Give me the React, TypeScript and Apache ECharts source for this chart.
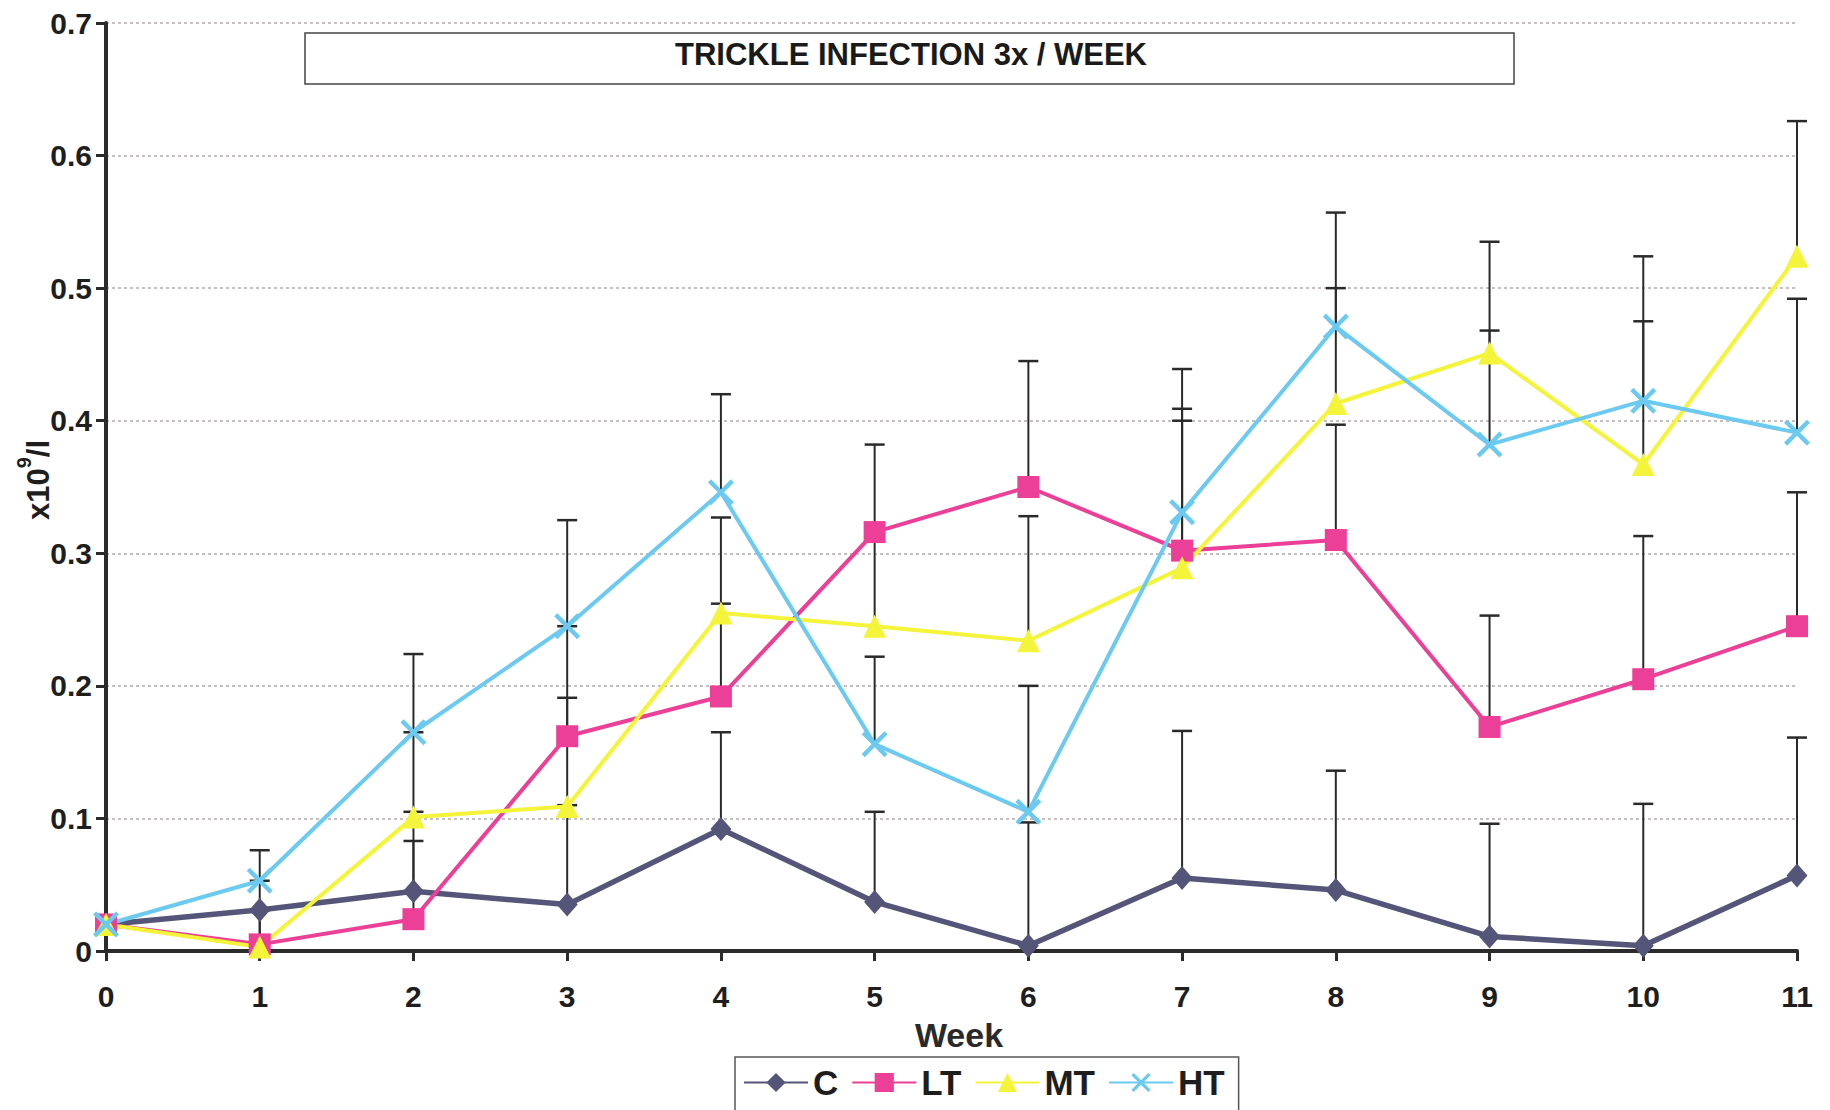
import React, { useEffect, useRef } from "react";
import * as echarts from "echarts";

const weeks = [0, 1, 2, 3, 4, 5, 6, 7, 8, 9, 10, 11];
const yTicks = [0, 0.1, 0.2, 0.3, 0.4, 0.5, 0.6, 0.7];

const cValues = [0.02, 0.031, 0.045, 0.035, 0.092, 0.037, 0.004, 0.055, 0.046, 0.011, 0.004, 0.057];
const ltValues = [0.02, 0.005, 0.024, 0.162, 0.192, 0.316, 0.35, 0.302, 0.31, 0.169, 0.205, 0.245];
const mtValues = [0.02, 0.003, 0.101, 0.109, 0.255, 0.245, 0.234, 0.289, 0.413, 0.451, 0.367, 0.524];
const htValues = [0.02, 0.053, 0.165, 0.245, 0.346, 0.156, 0.105, 0.331, 0.471, 0.382, 0.415, 0.391];

const cUpper = [null, 0.053, 0.083, 0.11, 0.165, 0.105, 0.097, 0.166, 0.136, 0.096, 0.111, 0.161];
const ltUpper = [null, 0.031, 0.105, 0.245, 0.262, 0.382, 0.445, 0.409, 0.397, 0.253, 0.313, 0.346];
const mtUpper = [null, 0.031, 0.165, 0.191, 0.327, 0.318, 0.328, 0.4, 0.5, 0.535, 0.475, 0.626];
const htUpper = [null, 0.076, 0.224, 0.325, 0.42, 0.222, 0.2, 0.439, 0.557, 0.468, 0.524, 0.492];

const seriesNames = ["C", "LT", "MT", "HT"];
const titleText = "TRICKLE INFECTION 3x / WEEK";

const X_PATH =
  "path://M0,1.2 L1.2,0 L5,3.8 L8.8,0 L10,1.2 L6.2,5 L10,8.8 L8.8,10 L5,6.2 L1.2,10 L0,8.8 L3.8,5 Z";

function pairs(vals: number[]) {
  return weeks.map((w, i) => [w, vals[i]]);
}

function errData(vals: number[], upper: (number | null)[]) {
  const out: number[][] = [];
  weeks.forEach((w, i) => {
    const u = upper[i];
    if (u !== null && u !== undefined) out.push([w, vals[i], u]);
  });
  return out;
}

function errSeries(name: string, vals: number[], upper: (number | null)[]) {
  return {
    name,
    type: "custom",
    z: 1,
    silent: true,
    clip: false,
    encode: { x: 0, y: [1, 2] },
    data: errData(vals, upper),
    renderItem: (params: any, api: any) => {
      const x = api.value(0);
      const lo = api.value(1);
      const hi = api.value(2);
      const p0 = api.coord([x, lo]);
      const p1 = api.coord([x, hi]);
      return {
        type: "group",
        children: [
          {
            type: "line",
            shape: { x1: p0[0], y1: p0[1], x2: p1[0], y2: p1[1] },
            style: { stroke: "#2a2a2a", lineWidth: 2 },
          },
          {
            type: "line",
            shape: { x1: p1[0] - 10, y1: p1[1], x2: p1[0] + 10, y2: p1[1] },
            style: { stroke: "#2a2a2a", lineWidth: 2.5 },
          },
        ],
      };
    },
  };
}

export default function App() {
  const ref = useRef<HTMLDivElement>(null);

  useEffect(() => {
    document.body.style.margin = "0";
    if (!ref.current) return;
    const chart = echarts.init(ref.current, undefined, { renderer: "svg" });

    const lineBase = (name: string, vals: number[], color: string, symbol: string, size: any, width: number) => ({
      name,
      type: "line",
      z: 3,
      data: pairs(vals),
      symbol,
      symbolSize: size,
      showAllSymbol: true,
      lineStyle: { color, width },
      itemStyle: { color, borderWidth: 0 },
      emphasis: { disabled: true },
    });

    chart.setOption({
      animation: false,
      backgroundColor: "#ffffff",
      grid: { left: 106, right: 33, top: 23, bottom: 159, containLabel: false },
      xAxis: {
        type: "value",
        min: 0,
        max: 11,
        interval: 1,
        axisLine: { show: true, onZero: false, lineStyle: { color: "#2b2b2b", width: 4 } },
        axisTick: { show: true, length: 10, inside: false, lineStyle: { color: "#2b2b2b", width: 3 } },
        splitLine: { show: false },
        axisLabel: {
          margin: 30,
          fontSize: 30,
          fontWeight: "bold",
          fontFamily: "Liberation Sans, Arial, sans-serif",
          color: "#1e1e1e",
        },
      },
      yAxis: {
        type: "value",
        min: 0,
        max: 0.7,
        interval: 0.1,
        axisLine: { show: true, lineStyle: { color: "#2b2b2b", width: 4 } },
        axisTick: { show: true, length: 10, lineStyle: { color: "#2b2b2b", width: 3 } },
        splitLine: { show: true, lineStyle: { color: "#b3abab", width: 1.5, type: [3, 3] } },
        axisLabel: {
          margin: 14,
          fontSize: 30,
          fontWeight: "bold",
          fontFamily: "Liberation Sans, Arial, sans-serif",
          color: "#1e1e1e",
          formatter: (v: number) => {
            const t = yTicks.find((k) => Math.abs(k - v) < 1e-6);
            const val = t === undefined ? v : t;
            return val === 0 ? "0" : val.toFixed(1);
          },
        },
      },
      legend: {
        data: seriesNames,
        left: 735,
        top: 1057,
        orient: "horizontal",
        itemWidth: 64,
        itemHeight: 24,
        itemGap: 13,
        padding: [8, 14, 16, 8],
        borderColor: "#555",
        borderWidth: 1.5,
        backgroundColor: "#fff",
        selectedMode: false,
        textStyle: {
          fontSize: 35,
          fontWeight: "bold",
          fontFamily: "Liberation Sans, Arial, sans-serif",
          color: "#1e1e1e",
        },
      },
      graphic: [
        {
          type: "rect",
          shape: { x: 305, y: 33, width: 1209, height: 51 },
          style: { fill: "#ffffff", stroke: "#444", lineWidth: 1.5 },
          z: 10,
        },
        {
          type: "text",
          x: 911,
          y: 54,
          z: 11,
          style: {
            text: titleText,
            align: "center",
            verticalAlign: "middle",
            fontSize: 31,
            fontWeight: "bold",
            fontFamily: "Liberation Sans, Arial, sans-serif",
            fill: "#1a1a1a",
          },
        },
        {
          type: "text",
          x: 959,
          y: 1035,
          z: 11,
          style: {
            text: "Week",
            align: "center",
            verticalAlign: "middle",
            fontSize: 34,
            fontWeight: "bold",
            fontFamily: "Liberation Sans, Arial, sans-serif",
            fill: "#2a2a2a",
          },
        },
        {
          type: "text",
          x: 34,
          y: 480,
          rotation: Math.PI / 2,
          z: 11,
          style: {
            text: "{a|x10}{b|9}{a|/l}",
            align: "center",
            verticalAlign: "middle",
            rich: {
              a: {
                fontSize: 31,
                fontWeight: "bold",
                fontFamily: "Liberation Sans, Arial, sans-serif",
                fill: "#1e1e1e",
                lineHeight: 40,
                verticalAlign: "bottom",
              },
              b: {
                fontSize: 20,
                fontWeight: "bold",
                fontFamily: "Liberation Sans, Arial, sans-serif",
                fill: "#1e1e1e",
                lineHeight: 40,
                verticalAlign: "top",
              },
            },
          },
        },
      ],
      series: [
        errSeries("errC", cValues, cUpper),
        errSeries("errLT", ltValues, ltUpper),
        errSeries("errMT", mtValues, mtUpper),
        errSeries("errHT", htValues, htUpper),
        lineBase("C", cValues, "#55557a", "diamond", [21, 24], 5.5),
        lineBase("LT", ltValues, "#ec3f98", "rect", 22, 4),
        lineBase("MT", mtValues, "#f4f43a", "triangle", 23, 4),
        lineBase("HT", htValues, "#6ccaf0", X_PATH, 26, 4),
      ],
    });

    return () => {
      chart.dispose();
    };
  }, []);

  return (
    <div
      ref={ref}
      style={{ width: 1830, height: 1110, position: "absolute", left: 0, top: 0, background: "#fff" }}
    />
  );
}
